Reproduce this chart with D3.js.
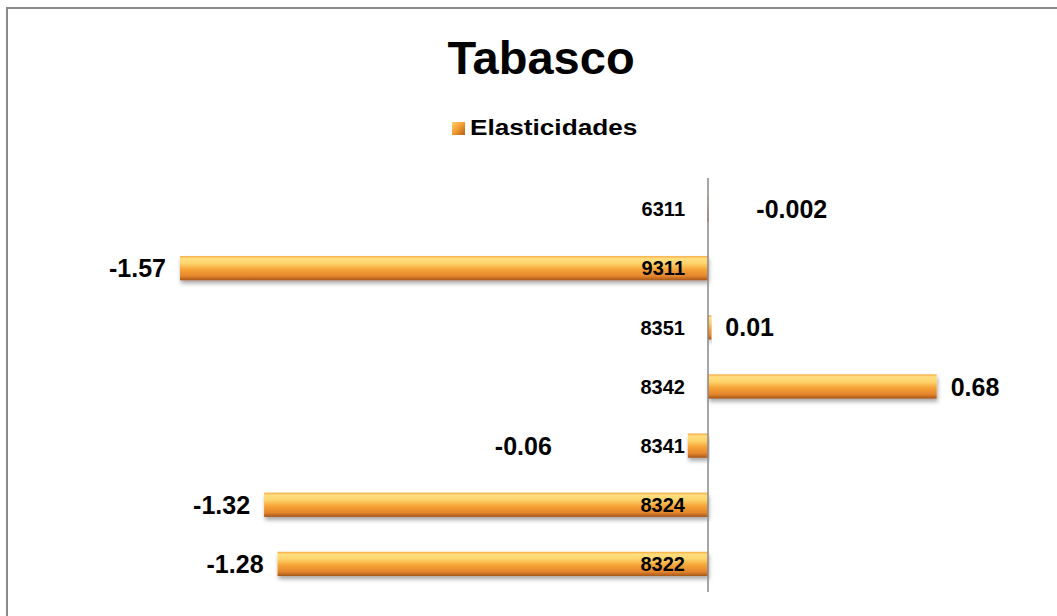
<!DOCTYPE html>
<html>
<head>
<meta charset="utf-8">
<script src="https://cdn.jsdelivr.net/npm/d3@7"></script>
<style>
  html, body { margin: 0; padding: 0; background: #fff; }
  svg { display: block; }
  text { font-family: "Liberation Sans", Arial, sans-serif; font-weight: bold; fill: #000; }
</style>
</head>
<body>
<svg id="chart" width="1057" height="616"></svg>
<script>
// ---- data ----
const title = "Tabasco";
const seriesName = "Elasticidades";
const categories = ["6311", "9311", "8351", "8342", "8341", "8324", "8322"];
const values = [-0.002, -1.57, 0.01, 0.68, -0.06, -1.32, -1.28];
const valueLabels = ["-0.002", "-1.57", "0.01", "0.68", "-0.06", "-1.32", "-1.28"];

// ---- layout / style ----
const W = 1057, H = 616;
const svg = d3.select("#chart");
const defs = svg.append("defs");

const grad = defs.append("linearGradient").attr("id", "barGrad")
  .attr("x1", 0).attr("y1", 0).attr("x2", 0).attr("y2", 1);
[[0, "#f7a83c"], [0.1, "#ffde80"], [0.3, "#fdd46c"], [0.55, "#f6a437"], [0.82, "#e5862c"], [1, "#a4561b"]]
  .forEach(([o, c]) => grad.append("stop").attr("offset", o).attr("stop-color", c));

const legGrad = defs.append("linearGradient").attr("id", "legGrad")
  .attr("x1", 0).attr("y1", 0).attr("x2", 1).attr("y2", 1);
[[0, "#ffd070"], [0.5, "#f39a30"], [1, "#b0601c"]]
  .forEach(([o, c]) => legGrad.append("stop").attr("offset", o).attr("stop-color", c));

const shadow = defs.append("filter").attr("id", "shadow")
  .attr("x", "-5%").attr("y", "-30%").attr("width", "110%").attr("height", "190%");
shadow.append("feDropShadow").attr("dx", 1).attr("dy", 3).attr("stdDeviation", 2)
  .attr("flood-color", "#000").attr("flood-opacity", 0.35);

// outer frame (extends past the picture at right and bottom)
svg.append("rect").attr("x", 7).attr("y", 8).attr("width", W + 20).attr("height", H + 20)
  .attr("fill", "none").attr("stroke", "#8a8a8a").attr("stroke-width", 2);

// scales
const zeroX = 708, pxPerUnit = 336.3;
const x = d3.scaleLinear().domain([-2, 1]).range([zeroX - 2 * pxPerUnit, zeroX + pxPerUnit]);
const y = d3.scaleBand().domain(categories).range([179.5, 593.5])
  .paddingInner(0.59).paddingOuter(0.295);

// title
svg.append("text").attr("x", 541).attr("y", 74).attr("text-anchor", "middle")
  .style("font-size", "47px").text(title);

// legend
const leg = svg.append("g");
leg.append("rect").attr("x", 452).attr("y", 122).attr("width", 13).attr("height", 13)
  .attr("fill", "url(#legGrad)");
leg.append("text").attr("x", 470).attr("y", 135).style("font-size", "22px")
  .attr("transform", "translate(470,0) scale(1.19,1) translate(-470,0)")
  .text(seriesName);

// bars
const data = categories.map((c, i) => ({ c, v: values[i], label: valueLabels[i] }));
svg.append("g").selectAll("rect").data(data).join("rect")
  .attr("x", d => Math.min(x(0), x(d.v)))
  .attr("y", d => y(d.c))
  .attr("width", d => Math.max(1.2, Math.abs(x(d.v) - x(0))))
  .attr("height", y.bandwidth())
  .attr("fill", "url(#barGrad)")
  .attr("filter", "url(#shadow)");

// vertical axis line
svg.append("line").attr("x1", zeroX).attr("x2", zeroX).attr("y1", 178).attr("y2", 592)
  .attr("stroke", "#888").attr("stroke-width", 1.5);

// category labels (right aligned, just left of the axis)
svg.append("g").selectAll("text").data(data).join("text")
  .attr("x", zeroX - 23)
  .attr("y", d => y(d.c) + y.bandwidth() / 2)
  .attr("dy", "0.36em")
  .attr("text-anchor", "end")
  .style("font-size", "20px")
  .text(d => d.c);

// value labels (outside end; a couple are shifted to avoid collisions)
const labelShift = { "6311": { anchor: "start", dx: 49 }, "8341": { anchor: "end", dx: -136 } };
svg.append("g").selectAll("text").data(data).join("text")
  .attr("x", d => {
    const s = labelShift[d.c];
    if (s) return x(d.v) + s.dx;
    return d.v < 0 ? x(d.v) - 14 : x(d.v) + 14;
  })
  .attr("y", d => y(d.c) + y.bandwidth() / 2)
  .attr("dy", "0.36em")
  .attr("text-anchor", d => labelShift[d.c] ? labelShift[d.c].anchor : (d.v < 0 ? "end" : "start"))
  .style("font-size", "25px")
  .text(d => d.label);
</script>
</body>
</html>
